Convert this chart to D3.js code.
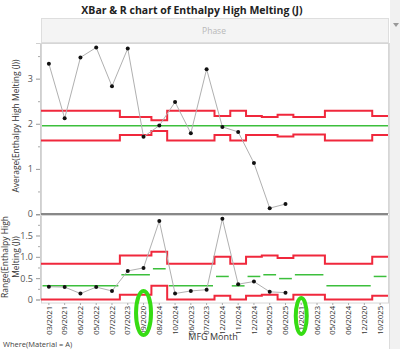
<!DOCTYPE html>
<html>
<head>
<meta charset="utf-8">
<script src="https://cdn.jsdelivr.net/npm/d3@7"></script>
<style>
  html, body { margin: 0; padding: 0; background: #ffffff; }
  svg { display: block; }
  text { font-family: "Open Sans", "Noto Sans", sans-serif; }
</style>
</head>
<body>
<svg id="chart" width="400" height="349"></svg>
<script>
// Subgroup labels (manufacturing month), in run order
const months = ["03/2021","09/2021","06/2022","05/2022","07/2022","07/2023","09/2020","08/2024",
  "10/2024","06/2023","07/2023","12/2024","11/2024","12/2024","05/2025","06/2025",
  "11/2021","06/2023","05/2024","06/2024","12/2020","10/2025"];

// Subgroup averages and ranges (no data for the last six months)
const averages = [3.33,2.12,3.47,3.69,2.83,3.67,1.71,1.96,2.48,1.79,3.21,1.93,1.82,1.13,0.13,0.22,
  null,null,null,null,null,null];
const ranges = [0.30,0.29,0.14,0.29,0.20,0.67,0.74,1.84,0.14,0.20,0.23,1.89,0.36,0.42,0.18,0.16,
  null,null,null,null,null,null];

// XBar limits per subgroup (depend on subgroup size)
const avgCenter = 1.955;
const avgUCL = [2.29,2.29,2.29,2.29,2.29,2.15,2.15,2.08,2.29,2.29,2.29,2.17,2.29,2.17,2.15,2.20,
  2.15,2.15,2.29,2.29,2.29,2.17];
const avgLCL = [1.63,1.63,1.63,1.63,1.63,1.75,1.75,1.84,1.63,1.63,1.63,1.75,1.63,1.75,1.75,1.72,
  1.76,1.76,1.63,1.63,1.63,1.75];

// R chart limits per subgroup
const rngUCL = [0.84,0.84,0.84,0.84,0.84,1.03,1.03,1.12,0.84,0.84,0.84,1.00,0.84,1.00,1.03,0.97,
  1.03,1.03,0.84,0.84,0.84,1.00];
const rngCL = [0.32,0.32,0.32,0.32,0.32,0.58,0.58,0.72,0.32,0.32,0.32,0.54,0.32,0.54,0.58,0.49,
  0.58,0.58,0.32,0.32,0.32,0.54];
const rngLCL = [0,0,0,0,0,0.11,0.11,0.32,0,0,0,0.09,0,0.09,0.11,0,
  0.11,0.11,0,0,0,0.09];

const avgTicks = [0,1,2,3];
const avgMinor = [0.5,1.5,2.5,3.5];
const rngTicks = [0,0.5,1.0,1.5];
const rngMinor = [0.25,0.75,1.25,1.75];

const svg = d3.select("#chart");
const L = 41, R = 388;
const RED = "#f0283c", GREEN = "#3cbf3c";

const idx = months.map((_, i) => i);
const x = d3.scaleBand().domain(idx).range([L, R]);
const cx = i => x(i) + x.bandwidth() / 2;

const yA = d3.scaleLinear().domain([0, 3.79]).range([214, 43]);
const yR = d3.scaleLinear().domain([0, 1.98]).range([299.5, 215]);

// right-side gray strip
svg.append("rect").attr("x", 390).attr("y", 0).attr("width", 10).attr("height", 349).attr("fill", "#f1f1f1");
svg.append("line").attr("x1", 389.5).attr("x2", 389.5).attr("y1", 43).attr("y2", 349)
  .attr("stroke", "#dcdcdc");

// title
svg.append("text").attr("x", 192).attr("y", 14).attr("text-anchor", "middle")
  .attr("font-size", 10.5).attr("font-weight", "bold").attr("fill", "#222")
  .text("XBar & R chart of Enthalpy High Melting (J)");

// phase header
svg.append("rect").attr("x", L + 0.5).attr("y", 18.5).attr("width", R - L).attr("height", 24)
  .attr("fill", "#f4f4f4").attr("stroke", "#dedede");
svg.append("text").attr("x", 214).attr("y", 34).attr("text-anchor", "middle")
  .attr("font-size", 8.5).attr("fill", "#b8b8b8").text("Phase");
svg.append("path").attr("d", "M393,23 L399,23 L396,27 Z").attr("fill", "#999");

// plot frames
svg.append("rect").attr("x", L + 0.5).attr("y", 43.5).attr("width", R - L).attr("height", 170)
  .attr("fill", "#fff").attr("stroke", "#d6d6d6");
svg.append("rect").attr("x", L + 0.5).attr("y", 215.5).attr("width", R - L).attr("height", 87.5)
  .attr("fill", "#fff").attr("stroke", "#d6d6d6");

// axes
function styleAxis(g) {
  g.select(".domain").attr("stroke", "#cfcfcf");
  g.selectAll(".tick line").attr("stroke", "#999");
  g.selectAll(".tick text").attr("fill", "#555").attr("font-size", 9)
    .attr("font-family", "'Open Sans', 'Noto Sans', sans-serif");
}
svg.append("g").attr("transform", `translate(${L - 1},0)`)
  .call(d3.axisLeft(yA).tickValues(avgTicks).tickSize(4).tickPadding(3).tickFormat(d3.format("d")))
  .call(styleAxis);
svg.append("g").attr("transform", `translate(${L - 1},0)`)
  .call(d3.axisLeft(yA).tickValues(avgMinor).tickSize(2).tickFormat(""))
  .call(g => { g.select(".domain").remove(); g.selectAll("line").attr("stroke", "#aaa"); });
svg.append("g").attr("transform", `translate(${L - 1},0)`)
  .call(d3.axisLeft(yR).tickValues(rngTicks).tickSize(4).tickPadding(3)
    .tickFormat(d => d === 0 ? "0" : d3.format(".1f")(d)))
  .call(styleAxis);
svg.append("g").attr("transform", `translate(${L - 1},0)`)
  .call(d3.axisLeft(yR).tickValues(rngMinor).tickSize(2).tickFormat(""))
  .call(g => { g.select(".domain").remove(); g.selectAll("line").attr("stroke", "#aaa"); });

// zero line of the averages panel
svg.append("line").attr("x1", L).attr("x2", R).attr("y1", yA(0)).attr("y2", yA(0))
  .attr("stroke", "#888").attr("stroke-width", 2);

// x axis labels
svg.append("g").attr("transform", "translate(0,303)")
  .call(d3.axisBottom(x).tickSize(2).tickFormat(i => months[i]))
  .call(g => {
    g.select(".domain").remove();
    g.selectAll(".tick line").attr("stroke", "#aaa");
    g.selectAll(".tick text").attr("transform", "rotate(-90)")
      .attr("text-anchor", "end").attr("x", -3).attr("y", 0).attr("dy", "0.35em")
      .attr("font-size", 7.6).attr("fill", "#333")
      .attr("font-family", "'Open Sans', 'Noto Sans', sans-serif");
  });

// axis titles
svg.append("text").attr("transform", "translate(19,126) rotate(-90)").attr("text-anchor", "middle")
  .attr("font-size", 8.5).attr("fill", "#333").text("Average(Enthalpy High Melting (J))");
const rt = svg.append("text").attr("transform", "translate(8,257) rotate(-90)").attr("text-anchor", "middle")
  .attr("font-size", 8.5).attr("fill", "#333");
rt.append("tspan").attr("x", 0).attr("dy", 0).text("Range(Enthalpy High");
rt.append("tspan").attr("x", 0).attr("dy", 11).text("Melting (J))");
svg.append("text").attr("x", 213).attr("y", 340).attr("text-anchor", "middle")
  .attr("font-size", 9).attr("fill", "#333").text("MFG Month");
svg.append("text").attr("x", 3).attr("y", 347).attr("font-size", 7.5).attr("fill", "#444")
  .text("Where(Material = A)");

// stepped limit line through band edges
function stepped(vals, y) {
  const pts = vals.map((v, i) => [x(i), y(v)]);
  pts.push([x(vals.length - 1) + x.bandwidth(), y(vals[vals.length - 1])]);
  return d3.line().curve(d3.curveStepAfter)(pts);
}
function limits(arr, y) {
  svg.append("path").attr("d", stepped(arr, y)).attr("fill", "none")
    .attr("stroke", RED).attr("stroke-width", 2);
}

// XBar panel
svg.append("line").attr("x1", L + 1).attr("x2", R).attr("y1", yA(avgCenter)).attr("y2", yA(avgCenter))
  .attr("stroke", GREEN).attr("stroke-width", 1.5);
limits(avgUCL, yA);
limits(avgLCL, yA);

const avgPts = averages.map((v, i) => ({ i, v })).filter(d => d.v != null);
svg.append("path").attr("d", d3.line().x(d => cx(d.i)).y(d => yA(d.v))(avgPts))
  .attr("fill", "none").attr("stroke", "#b0b0b0").attr("stroke-width", 1);
svg.append("g").selectAll("circle").data(avgPts).join("circle")
  .attr("cx", d => cx(d.i)).attr("cy", d => yA(d.v)).attr("r", 2).attr("fill", "#111");

// R panel: center line as one segment per run of equal values
const runs = [];
rngCL.forEach((v, i) => {
  const last = runs[runs.length - 1];
  if (last && last.v === v) last.end = i; else runs.push({ v, start: i, end: i });
});
svg.append("g").selectAll("line").data(runs).join("line")
  .attr("x1", d => x(d.start) + 1.5).attr("x2", d => x(d.end) + x.bandwidth() - 1.5)
  .attr("y1", d => yR(d.v)).attr("y2", d => yR(d.v))
  .attr("stroke", GREEN).attr("stroke-width", 1.5);
limits(rngUCL, yR);
limits(rngLCL, yR);

const rngPts = ranges.map((v, i) => ({ i, v })).filter(d => d.v != null);
svg.append("path").attr("d", d3.line().x(d => cx(d.i)).y(d => yR(d.v))(rngPts))
  .attr("fill", "none").attr("stroke", "#b0b0b0").attr("stroke-width", 1);
svg.append("g").selectAll("circle").data(rngPts).join("circle")
  .attr("cx", d => cx(d.i)).attr("cy", d => yR(d.v)).attr("r", 2).attr("fill", "#111");

// hand-drawn green highlight rings around two month labels
const marked = [{ i: 6, rx: 7.5, ry: 22, cy: 313 }, { i: 16, rx: 5.5, ry: 18, cy: 316 }];
svg.append("g").selectAll("ellipse").data(marked).join("ellipse")
  .attr("cx", d => cx(d.i)).attr("cy", d => d.cy).attr("rx", d => d.rx).attr("ry", d => d.ry)
  .attr("fill", "none").attr("stroke", "#36dc14").attr("stroke-width", 4);
</script>
</body>
</html>
